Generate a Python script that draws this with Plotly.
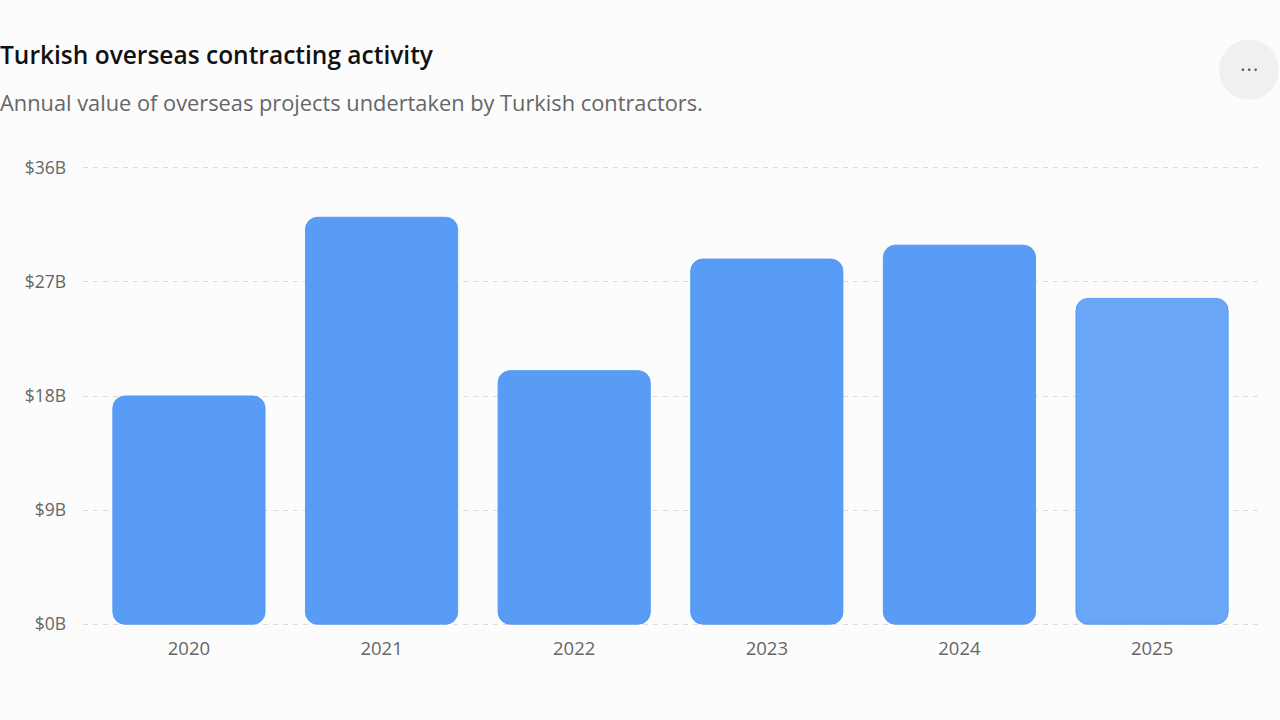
import plotly.graph_objects as go

years = ["2020", "2021", "2022", "2023", "2024", "2025"]
values_bn = [18.0, 32.1, 20.0, 28.8, 29.9, 25.7]
tick_vals = [0, 9, 18, 27, 36]
tick_text = ["$0B", "$9B", "$18B", "$27B", "$36B"]

title = "Turkish overseas contracting activity"
subtitle = "Annual value of overseas projects undertaken by Turkish contractors."

bar_colors = ["#599cf6", "#599cf6", "#599cf6", "#599cf6", "#599cf6", "#69a7f6"]

BAR_W = 0.79
Y0, Y1 = -0.3, 36.3
PX = 456 / 36
top_m = 168 - (Y1 - 36) * PX
bot_m = 96 - (0 - Y0) * PX
plot_h = 720 - top_m - bot_m

fig = go.Figure()
fig.add_trace(go.Bar(
    x=years, y=values_bn, base=[0] * len(values_bn), width=BAR_W,
    marker=dict(color=bar_colors, cornerradius=12, line=dict(width=1, color="rgba(80,150,245,0.9)")),
    hovertemplate="%{x}: $%{y}B<extra></extra>", showlegend=False,
))


def py(pix):
    return (720 - bot_m - pix) / plot_h


fig.update_layout(
    width=1280, height=720,
    paper_bgcolor="#fcfcfc", plot_bgcolor="#fcfcfc",
    margin=dict(l=83, r=22, t=top_m, b=bot_m),
    font=dict(family="Open Sans, Noto Sans, sans-serif", color="#666666", size=16),
    xaxis=dict(
        type="category", range=[-0.55, 5.55], showgrid=False, zeroline=False,
        showline=False, ticks="", tickfont=dict(size=18.5, color="#666666"),
        ticklabelstandoff=7, fixedrange=True,
    ),
    yaxis=dict(
        range=[Y0, Y1], tickvals=tick_vals, ticktext=tick_text,
        showgrid=True, gridcolor="#dcdcdc", griddash="5px,5px", gridwidth=1,
        zeroline=False, showline=False, ticks="",
        tickfont=dict(size=17.5, color="#666666"), ticklabelstandoff=16,
        fixedrange=True,
    ),
    shapes=[dict(type="circle", xref="paper", yref="paper",
                 x0=(1219 - 83) / 1175, x1=(1279 - 83) / 1175,
                 y0=py(100), y1=py(40),
                 fillcolor="#f0f0f0", line=dict(width=0), layer="below")],
    annotations=[
        dict(text=title, xref="paper", yref="paper", x=-85 / 1175, y=py(55),
             xanchor="left", yanchor="middle", showarrow=False,
             font=dict(size=24.5, color="#111111", family="Open Sans, Noto Sans, sans-serif", weight=600)),
        dict(text=subtitle, xref="paper", yref="paper", x=-85 / 1175, y=py(103),
             xanchor="left", yanchor="middle", showarrow=False,
             font=dict(size=21.8, color="#666666")),
        dict(text="• • •", xref="paper", yref="paper", x=(1249 - 83) / 1175, y=py(70),
             xanchor="center", yanchor="middle", showarrow=False,
             font=dict(size=10, color="#444444")),
    ],
)

fig.write_html("out.html")
